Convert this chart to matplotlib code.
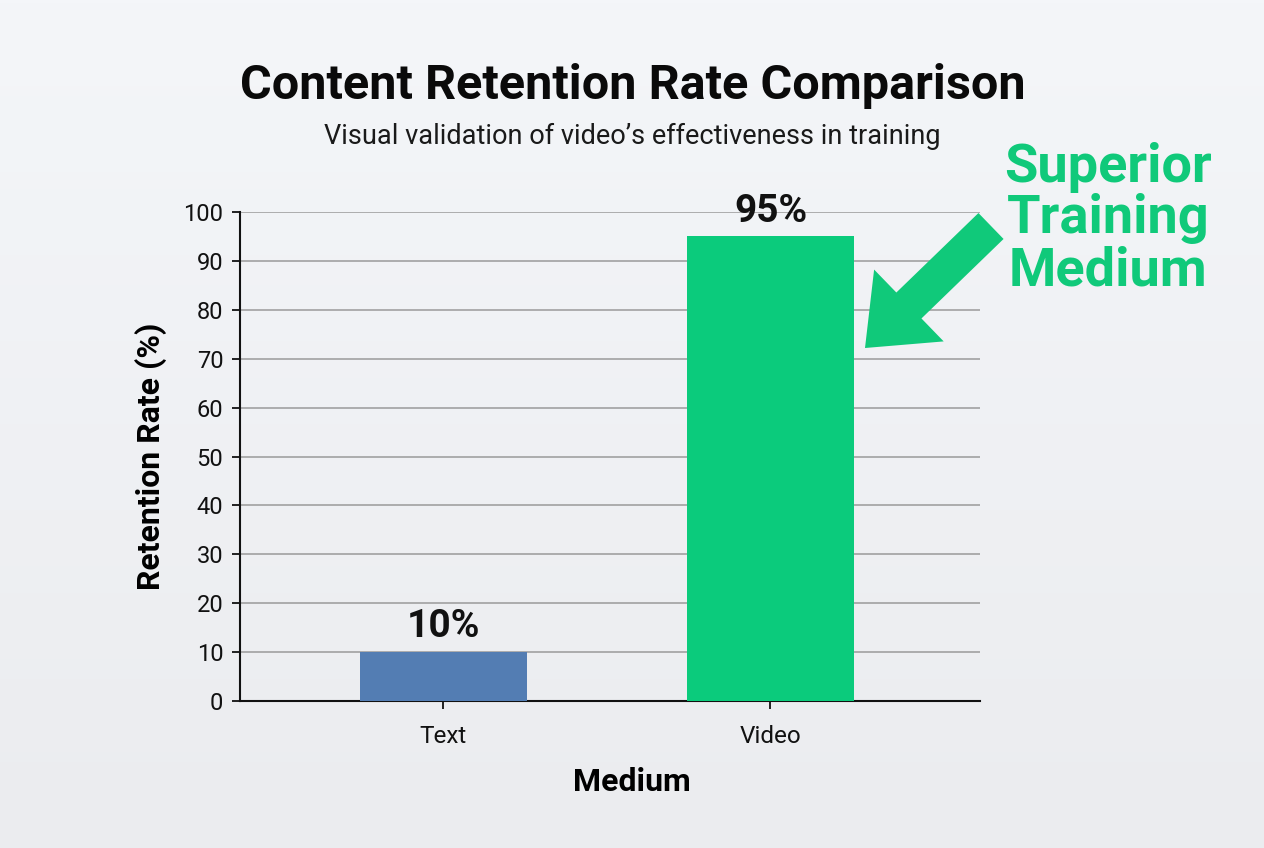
import matplotlib.pyplot as plt
import matplotlib as mpl
import numpy as np

mpl.rcParams['font.family'] = ['Roboto', 'DejaVu Sans']

# data
categories = ['Text', 'Video']
retention = [10, 95]
bar_colors = ['#537DB3', '#0BCB7C']
yticks = list(range(0, 101, 10))

fig = plt.figure(figsize=(12.64, 8.48), dpi=100)
fig.patch.set_facecolor('white')

# soft gradient card behind everything
bg = fig.add_axes([0, 0, 1, 1], zorder=-10)
grad = np.linspace(0, 1, 256).reshape(-1, 1)
bg_cmap = mpl.colors.LinearSegmentedColormap.from_list('bg', ['#F4F6F9', '#EBECEF'])
bg.imshow(grad, aspect='auto', cmap=bg_cmap, extent=[0, 1, 0, 1])
bg.axis('off')

ax = fig.add_axes([240 / 1264, 1 - 701 / 848, 740 / 1264, 489 / 848])
ax.set_facecolor('none')

x = np.arange(len(categories))
bars = ax.bar(x, retention, width=0.51, color=bar_colors, zorder=3)

for b, v in zip(bars, retention):
    ax.annotate('{}%'.format(v), (b.get_x() + b.get_width() / 2, v),
                xytext=(0, 5), textcoords='offset points',
                ha='center', va='bottom', fontsize=28, fontweight='bold', color='#111111')

ax.set_xlim(-0.62, 1.64)
ax.set_ylim(0, 100)
ax.set_yticks(yticks)
ax.set_xticks(x)
ax.set_xticklabels(categories)
ax.yaxis.grid(True, color='#9A9A9A', linewidth=1.1, zorder=0)
ax.set_axisbelow(True)

for s in ['top', 'right']:
    ax.spines[s].set_visible(False)
for s in ['left', 'bottom']:
    ax.spines[s].set_linewidth(1.5)
    ax.spines[s].set_color('#111111')

ax.tick_params(axis='y', labelsize=17, length=6, width=1.3, pad=6, colors='#111111')
ax.tick_params(axis='x', labelsize=17.5, length=6, width=1.3, pad=11, colors='#111111')

ax.set_ylabel('Retention Rate (%)', fontsize=23, fontweight='bold', labelpad=12)
ax.set_xlabel('Medium', fontsize=23, fontweight='bold', labelpad=12)
ax.xaxis.set_label_coords(0.53, -0.135)

fig.text(633 / 1264, 1 - 86 / 848, 'Content Retention Rate Comparison',
         ha='center', va='center', fontsize=35, fontweight='bold', color='#0A0A0A')
fig.text(632 / 1264, 1 - 136 / 848, "Visual validation of video\u2019s effectiveness in training",
         ha='center', va='center', fontsize=19.5, color='#1A1A1A')

# callout
green = '#10C97A'
fig.text(1108 / 1264, 1 - 219 / 848, 'Superior\nTraining\nMedium',
         ha='center', va='center', fontsize=39, fontweight='bold', color=green,
         linespacing=1.02)

fig.add_artist(mpl.patches.FancyArrowPatch(
    (991, 848 - 226), (865, 848 - 348), transform=None,
    arrowstyle='simple,head_length=44,head_width=72,tail_width=26',
    mutation_scale=1, color=green, shrinkA=0, shrinkB=0, lw=0))

plt.savefig('out.png', dpi=100, facecolor=fig.get_facecolor())
